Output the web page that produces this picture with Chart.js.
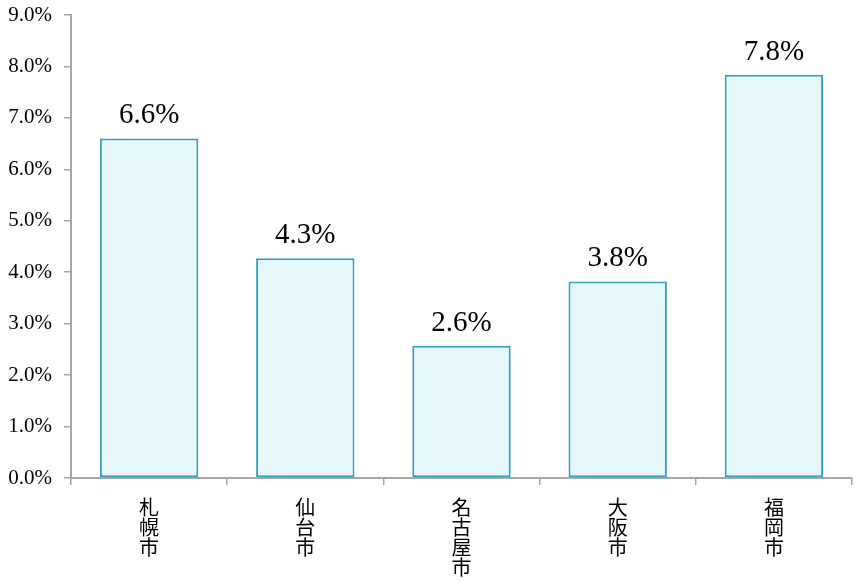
<!DOCTYPE html>
<html><head><meta charset="utf-8">
<script src="https://cdn.jsdelivr.net/npm/chart.js@4/dist/chart.umd.min.js"></script>
<style>html,body{margin:0;padding:0;background:#fff}#wrap{width:858px;height:582px}</style>
</head><body><div id="wrap"><canvas id="c" width="858" height="582"></canvas></div>
<script>
const categories = ['札幌市','仙台市','名古屋市','大阪市','福岡市'];
const values = [6.6, 4.27, 2.57, 3.82, 7.84];
const valueLabels = ['6.6%','4.3%','2.6%','3.8%','7.8%'];
const yTicks = [0,1,2,3,4,5,6,7,8,9];

const labelPlugin = {
  id: 'valueLabels',
  afterDatasetsDraw(chart) {
    const ctx = chart.ctx;
    const meta = chart.getDatasetMeta(0);
    ctx.save();
    ctx.font = '29px "Liberation Serif", serif';
    ctx.fillStyle = '#000';
    ctx.textAlign = 'center';
    ctx.textBaseline = 'alphabetic';
    meta.data.forEach((bar, i) => {
      ctx.fillText(valueLabels[i], bar.x, bar.y - 15);
    });
    ctx.restore();
  }
};

new Chart(document.getElementById('c'), {
  type: 'bar',
  data: {
    labels: categories.map(s => Array.from(s)),
    datasets: [{
      data: values,
      backgroundColor: '#e6f7fb',
      borderColor: '#31a0c4',
      borderWidth: 2,
      borderSkipped: false,
      barPercentage: 0.63,
      categoryPercentage: 1
    }]
  },
  options: {
    responsive: false,
    animation: false,
    devicePixelRatio: 1,
    layout: { padding: { left: 0, right: 6, top: 15, bottom: 0 } },
    plugins: { legend: { display: false }, tooltip: { enabled: false } },
    scales: {
      x: {
        grid: { offset: true, drawOnChartArea: false, drawTicks: true, tickLength: 7, color: '#a6a6a6', lineWidth: 1.5 },
        border: { color: '#a6a6a6', width: 2 },
        ticks: { color: '#000', padding: 12, maxRotation: 0, autoSkip: false,
          font: { family: '"Noto Sans CJK JP", sans-serif', size: 20, lineHeight: 1.0 } },
        afterFit(s) { s.height = 104; s.paddingLeft = 0; s.paddingRight = 0; }
      },
      y: {
        min: 0, max: 9,
        afterBuildTicks(s) { s.ticks = yTicks.map(v => ({ value: v })); },
        grid: { drawOnChartArea: false, drawTicks: true, tickLength: 7, color: '#a6a6a6', lineWidth: 1.5 },
        border: { color: '#a6a6a6', width: 2 },
        ticks: { color: '#000', padding: 12,
          font: { family: '"Liberation Serif", serif', size: 21 },
          callback: v => v.toFixed(1) + '%' },
        afterFit(s) { s.width = 71; s.paddingTop = 0; s.paddingBottom = 0; }
      }
    }
  },
  plugins: [labelPlugin]
});
</script></body></html>
